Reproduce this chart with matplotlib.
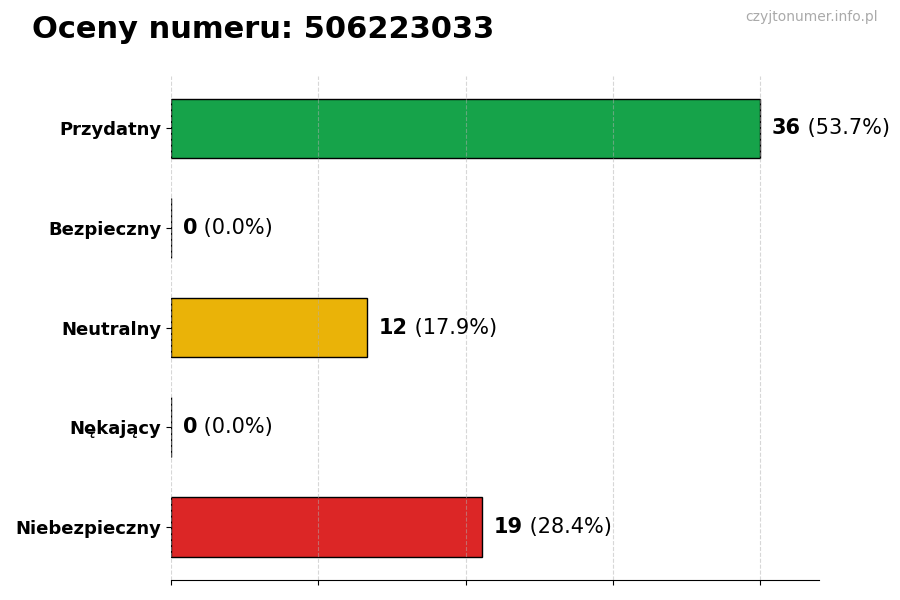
import matplotlib
matplotlib.use('Agg')
import matplotlib.pyplot as plt

# ratings for the number
categories = ['Przydatny', 'Bezpieczny', 'Neutralny', 'Nękający', 'Niebezpieczny']
counts = [36, 0, 12, 0, 19]
colors = ['#16a34a', '#6b7280', '#eab308', '#f97316', '#dc2626']
title = 'Oceny numeru: 506223033'
watermark = 'czyjtonumer.info.pl'

total = sum(counts)

fig = plt.figure(figsize=(9, 6), dpi=100)
ax = fig.add_axes([0.19, 0.034, 0.72, 0.84])

ypos = list(range(len(categories)))
ax.barh(ypos, counts, height=0.6, color=colors, edgecolor='black', linewidth=1)
ax.invert_yaxis()

ax.set_xlim(0, max(counts) * 1.1)
ax.set_xticks([0, 9, 18, 27, 36])
ax.set_xticklabels([])
ax.set_yticks(ypos)
ax.set_yticklabels(categories, fontsize=13, fontweight='bold')

ax.grid(axis='x', linestyle='--', alpha=0.5)
for side in ['top', 'right', 'left']:
    ax.spines[side].set_visible(False)

fig.canvas.draw()
renderer = fig.canvas.get_renderer()
for y, c in zip(ypos, counts):
    pct = 100 * c / total
    x0 = c + max(counts) * 0.02
    t = ax.text(x0, y, f'{c}', va='center', ha='left', fontsize=15, fontweight='bold')
    bb = t.get_window_extent(renderer)
    x1 = ax.transData.inverted().transform((bb.x1, 0))[0]
    ax.text(x1, y, f' ({pct:.1f}%)', va='center', ha='left', fontsize=15)

fig.text(0.035, 0.95, title, fontsize=22, fontweight='bold', va='center', ha='left')
fig.text(0.975, 0.972, watermark, fontsize=10, color='#aaaaaa', va='center', ha='right')

fig.savefig('out.png', dpi=100)
